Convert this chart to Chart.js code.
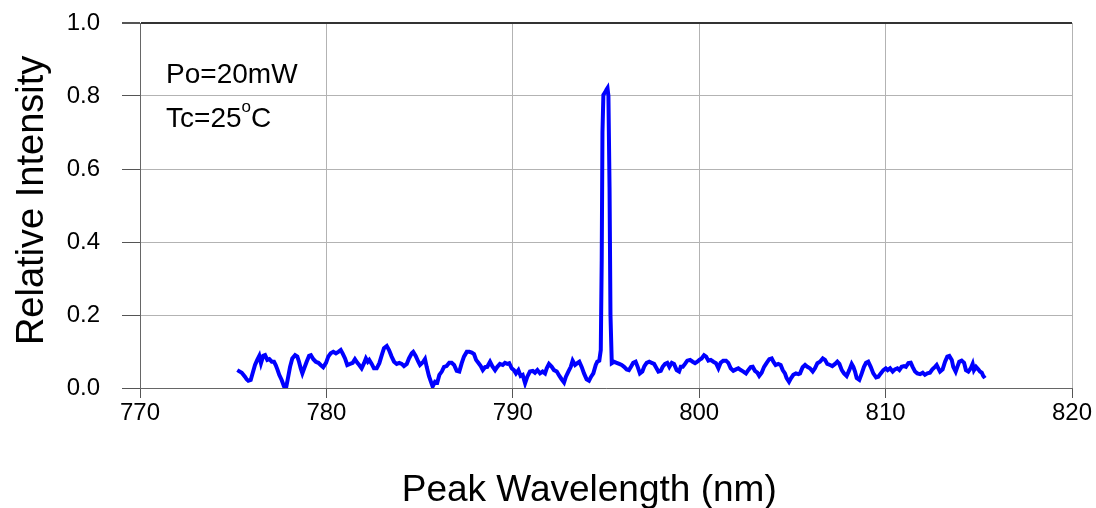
<!DOCTYPE html>
<html>
<head>
<meta charset="utf-8">
<script src="https://cdn.jsdelivr.net/npm/chart.js@4.4.1/dist/chart.umd.min.js"></script>
<style>
  html, body { margin: 0; padding: 0; background: #fff; }
  #spectrum { display: block; }
</style>
</head>
<body>
<canvas id="spectrum" width="1096" height="508"></canvas>
<script>
// wavelength (nm) and relative intensity
const wavelengthNm = [
  775.22, 775.46, 775.63, 775.72, 775.81, 775.94, 776.05, 776.17, 776.29, 776.40,
  776.49, 776.61, 776.71, 776.83, 776.94, 777.07, 777.19, 777.28, 777.37, 777.47,
  777.60, 777.73, 777.83, 777.92, 778.05, 778.17, 778.32, 778.44, 778.53, 778.62,
  778.71, 778.81, 778.94, 779.07, 779.17, 779.30, 779.43, 779.57, 779.69, 779.83,
  779.98, 780.10, 780.23, 780.37, 780.51, 780.64, 780.77, 780.87, 781.00, 781.12,
  781.27, 781.41, 781.53, 781.66, 781.76, 781.89, 782.02, 782.12, 782.22, 782.30,
  782.43, 782.55, 782.70, 782.84, 782.97, 783.09, 783.24, 783.36, 783.50, 783.63,
  783.77, 783.91, 784.04, 784.16, 784.31, 784.43, 784.58, 784.66, 784.79, 784.93,
  785.02, 785.20, 785.29, 785.38, 785.50, 785.61, 785.70, 785.83, 785.95, 786.06,
  786.19, 786.31, 786.45, 786.59, 786.72, 786.85, 786.99, 787.13, 787.26, 787.38,
  787.53, 787.67, 787.80, 787.92, 788.03, 788.15, 788.28, 788.39, 788.51, 788.63,
  788.78, 788.90, 789.05, 789.17, 789.31, 789.46, 789.58, 789.71, 789.81, 789.94,
  790.06, 790.17, 790.30, 790.42, 790.53, 790.66, 790.78, 790.92, 791.07, 791.19,
  791.32, 791.46, 791.60, 791.73, 791.82, 791.94, 792.09, 792.21, 792.36, 792.50,
  792.62, 792.75, 792.85, 792.98, 793.11, 793.21, 793.34, 793.46, 793.57, 793.70,
  793.82, 793.96, 794.09, 794.20, 794.32, 794.45, 794.53, 794.64, 794.72, 794.77,
  794.81, 794.86, 794.95, 795.03, 795.08, 795.13, 795.19, 795.24, 795.31, 795.43,
  795.57, 795.71, 795.84, 795.97, 796.11, 796.23, 796.34, 796.46, 796.59, 796.70,
  796.82, 796.95, 797.06, 797.18, 797.32, 797.45, 797.58, 797.68, 797.81, 797.94,
  798.04, 798.17, 798.29, 798.40, 798.53, 798.65, 798.79, 798.92, 799.01, 799.12,
  799.24, 799.36, 799.51, 799.65, 799.78, 799.90, 800.01, 800.13, 800.26, 800.37,
  800.49, 800.62, 800.76, 800.90, 801.03, 801.15, 801.29, 801.44, 801.56, 801.69,
  801.83, 801.97, 802.10, 802.23, 802.37, 802.51, 802.63, 802.76, 802.87, 802.99,
  803.12, 803.22, 803.35, 803.48, 803.62, 803.76, 803.89, 803.98, 804.10, 804.24,
  804.37, 804.48, 804.60, 804.69, 804.82, 804.93, 805.05, 805.19, 805.32, 805.41,
  805.55, 805.68, 805.80, 805.94, 806.09, 806.21, 806.34, 806.48, 806.63, 806.75,
  806.87, 807.02, 807.14, 807.29, 807.41, 807.52, 807.65, 807.77, 807.91, 808.05,
  808.18, 808.27, 808.36, 808.45, 808.59, 808.72, 808.84, 808.95, 809.07, 809.20,
  809.34, 809.49, 809.61, 809.74, 809.88, 810.01, 810.11, 810.24, 810.38, 810.50,
  810.63, 810.74, 810.86, 810.99, 811.09, 811.22, 811.35, 811.45, 811.58, 811.70,
  811.85, 811.99, 812.11, 812.24, 812.38, 812.51, 812.65, 812.74, 812.83, 812.92,
  813.06, 813.19, 813.31, 813.42, 813.55, 813.63, 813.76, 813.85, 813.95, 814.08,
  814.21, 814.31, 814.44, 814.57, 814.67, 814.74, 814.85, 814.97, 815.06, 815.16,
  815.24, 815.33
];
const intensity = [
  0.049, 0.042, 0.031, 0.024, 0.020, 0.022, 0.042, 0.063, 0.077, 0.088,
  0.068, 0.088, 0.090, 0.077, 0.079, 0.072, 0.072, 0.063, 0.051, 0.036,
  0.022, 0.004, -0.001, 0.022, 0.058, 0.081, 0.090, 0.086, 0.072, 0.054,
  0.040, 0.054, 0.072, 0.088, 0.090, 0.079, 0.072, 0.069, 0.063, 0.057,
  0.069, 0.086, 0.095, 0.099, 0.095, 0.099, 0.104, 0.095, 0.081, 0.063,
  0.066, 0.069, 0.079, 0.069, 0.063, 0.054, 0.068, 0.081, 0.072, 0.077,
  0.066, 0.054, 0.054, 0.068, 0.090, 0.109, 0.115, 0.104, 0.086, 0.072,
  0.066, 0.069, 0.066, 0.060, 0.066, 0.081, 0.095, 0.099, 0.088, 0.072,
  0.063, 0.072, 0.079, 0.058, 0.033, 0.017, 0.004, 0.017, 0.015, 0.036,
  0.045, 0.058, 0.060, 0.069, 0.069, 0.063, 0.047, 0.045, 0.068, 0.086,
  0.099, 0.099, 0.097, 0.093, 0.077, 0.069, 0.060, 0.049, 0.057, 0.058,
  0.072, 0.060, 0.049, 0.058, 0.066, 0.063, 0.069, 0.066, 0.068, 0.054,
  0.049, 0.040, 0.049, 0.033, 0.036, 0.013, 0.031, 0.045, 0.047, 0.042,
  0.049, 0.040, 0.045, 0.040, 0.054, 0.066, 0.058, 0.049, 0.045, 0.033,
  0.024, 0.015, 0.031, 0.045, 0.058, 0.075, 0.063, 0.068, 0.072, 0.057,
  0.040, 0.024, 0.020, 0.031, 0.040, 0.063, 0.072, 0.075, 0.104, 0.350,
  0.700, 0.803, 0.810, 0.818, 0.822, 0.800, 0.550, 0.200, 0.068, 0.072,
  0.069, 0.066, 0.063, 0.058, 0.051, 0.049, 0.058, 0.069, 0.072, 0.058,
  0.040, 0.045, 0.060, 0.069, 0.072, 0.069, 0.066, 0.057, 0.045, 0.047,
  0.058, 0.066, 0.069, 0.058, 0.069, 0.066, 0.049, 0.045, 0.058, 0.058,
  0.066, 0.075, 0.077, 0.072, 0.068, 0.072, 0.077, 0.081, 0.090, 0.086,
  0.075, 0.077, 0.072, 0.068, 0.054, 0.069, 0.075, 0.075, 0.069, 0.054,
  0.047, 0.051, 0.054, 0.049, 0.045, 0.040, 0.049, 0.057, 0.058, 0.047,
  0.042, 0.033, 0.042, 0.058, 0.069, 0.079, 0.081, 0.072, 0.063, 0.066,
  0.063, 0.049, 0.040, 0.027, 0.017, 0.027, 0.036, 0.040, 0.038, 0.040,
  0.057, 0.063, 0.058, 0.054, 0.045, 0.054, 0.068, 0.072, 0.081, 0.077,
  0.066, 0.063, 0.060, 0.066, 0.072, 0.066, 0.049, 0.040, 0.033, 0.049,
  0.066, 0.058, 0.045, 0.027, 0.022, 0.040, 0.058, 0.069, 0.072, 0.058,
  0.040, 0.029, 0.031, 0.040, 0.049, 0.054, 0.049, 0.054, 0.045, 0.051,
  0.054, 0.049, 0.058, 0.060, 0.058, 0.068, 0.069, 0.058, 0.045, 0.040,
  0.038, 0.042, 0.036, 0.040, 0.042, 0.051, 0.058, 0.063, 0.054, 0.045,
  0.051, 0.072, 0.086, 0.088, 0.077, 0.058, 0.045, 0.058, 0.072, 0.075,
  0.069, 0.049, 0.045, 0.054, 0.066, 0.049, 0.058, 0.051, 0.045, 0.042,
  0.033, 0.027
];

const xTitle = 'Peak Wavelength (nm)';
const yTitle = 'Relative Intensity';
const powerNote = 'Po=20mW';
const tempNote = ['Tc=25', 'o', 'C'];

const FONT = '"Liberation Sans", Arial, sans-serif';

// text notes inside the plot, plus both axis titles (placed by hand, slightly off centre)
const notesPlugin = {
  id: 'notes',
  afterDatasetsDraw(chart) {
    const { ctx, scales: { x, y } } = chart;
    const px = x.getPixelForValue(771.4);
    ctx.save();
    ctx.fillStyle = '#000';
    ctx.textBaseline = 'alphabetic';
    ctx.textAlign = 'left';
    ctx.font = '28px ' + FONT;
    ctx.fillText(powerNote, px, y.getPixelForValue(0.836));
    const by = y.getPixelForValue(0.715);
    ctx.fillText(tempNote[0], px, by);
    const w1 = ctx.measureText(tempNote[0]).width;
    ctx.font = '17px ' + FONT;
    ctx.fillText(tempNote[1], px + w1, by - 15);
    const w2 = ctx.measureText(tempNote[1]).width;
    ctx.font = '28px ' + FONT;
    ctx.fillText(tempNote[2], px + w1 + w2, by);

    ctx.font = '37px ' + FONT;
    ctx.textAlign = 'center';
    ctx.fillText(xTitle, x.getPixelForValue(794.1), chart.height - 7);

    ctx.font = '38px ' + FONT;
    ctx.translate(43, y.getPixelForValue(0.514));
    ctx.rotate(-Math.PI / 2);
    ctx.fillText(yTitle, 0, 0);
    ctx.restore();
  }
};

const points = wavelengthNm.map((w, i) => ({ x: w, y: intensity[i] }));

new Chart(document.getElementById('spectrum'), {
  type: 'line',
  data: {
    datasets: [{
      data: points,
      borderColor: '#0000ff',
      borderWidth: 4,
      pointRadius: 0,
      tension: 0,
      fill: false
    }]
  },
  options: {
    responsive: false,
    devicePixelRatio: 1,
    animation: false,
    layout: { padding: { top: 23, right: 24, left: 0, bottom: 0 } },
    plugins: {
      legend: { display: false },
      tooltip: { enabled: false }
    },
    scales: {
      x: {
        type: 'linear',
        min: 770,
        max: 820,
        afterFit: s => { s.height = 120; },
        ticks: {
          stepSize: 10,
          color: '#000',
          font: { family: FONT, size: 24 },
          padding: 1,
          maxRotation: 0
        },
        grid: {
          color: '#b3b3b3',
          tickColor: '#555',
          tickLength: 10,
          lineWidth: 1
        },
        border: { color: '#666', width: 1 }
      },
      y: {
        min: 0,
        max: 1,
        afterFit: s => {
          s.width = 140;
          s.paddingTop = 0;
          s.paddingBottom = 0;
        },
        ticks: {
          stepSize: 0.2,
          color: '#000',
          font: { family: FONT, size: 24 },
          padding: 22,
          callback: v => v.toFixed(1)
        },
        grid: {
          color: c => (c.tick && c.tick.value === 1 ? '#333' : '#b3b3b3'),
          lineWidth: c => (c.tick && c.tick.value === 1 ? 2 : 1),
          tickColor: '#555',
          tickLength: 18
        },
        border: { color: '#666', width: 1 }
      }
    }
  },
  plugins: [notesPlugin]
});
</script>
</body>
</html>
